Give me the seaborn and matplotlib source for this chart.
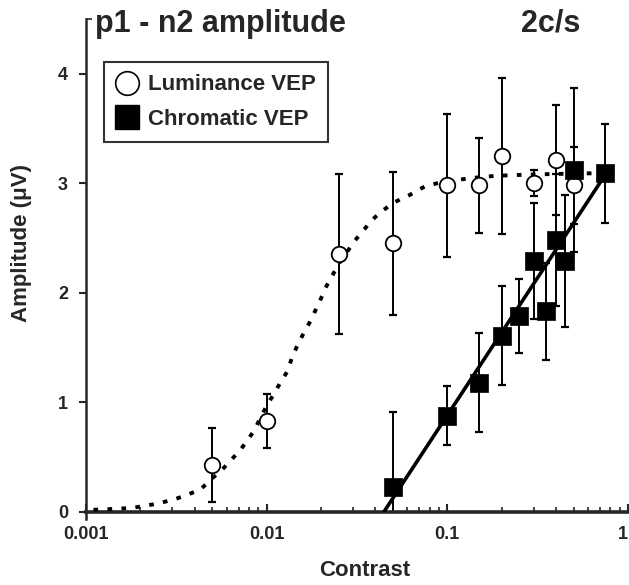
import numpy as np
import pandas as pd
import matplotlib
matplotlib.use("Agg")
import matplotlib.pyplot as plt
import seaborn as sns
from matplotlib.lines import Line2D
from matplotlib.ticker import FixedLocator, NullFormatter

# ---- data ----
lum_contrast = [0.005, 0.01, 0.025, 0.05, 0.1, 0.15, 0.2, 0.3, 0.4, 0.5]
lum_amp = [0.43, 0.83, 2.35, 2.45, 2.98, 2.98, 3.25, 3.00, 3.21, 2.98]
lum_err = [0.34, 0.25, 0.73, 0.65, 0.65, 0.43, 0.71, 0.12, 0.50, 0.35]

chr_contrast = [0.05, 0.1, 0.15, 0.2, 0.25, 0.3, 0.35, 0.4, 0.45, 0.5, 0.75]
chr_amp = [0.23, 0.88, 1.18, 1.61, 1.79, 2.29, 1.83, 2.48, 2.29, 3.12, 3.09]
chr_err = [0.68, 0.27, 0.45, 0.45, 0.34, 0.53, 0.44, 0.60, 0.60, 0.75, 0.45]

# fitted curves
lum_fit_x = [0.0011, 0.0015, 0.0018, 0.0025, 0.0031, 0.0036, 0.0043, 0.0051, 0.0057,
             0.0064, 0.0071, 0.0078, 0.0085, 0.010, 0.0110, 0.0119, 0.0131, 0.0138,
             0.0148, 0.016, 0.0173, 0.0185, 0.020, 0.0214, 0.0252, 0.0309, 0.0377,
             0.0421, 0.0515, 0.0615, 0.075, 0.088, 0.126, 0.16, 0.204, 0.30, 0.59, 0.75]
lum_fit_y = [0.02, 0.03, 0.037, 0.077, 0.117, 0.154, 0.206, 0.32, 0.39,
             0.48, 0.56, 0.65, 0.74, 0.97, 1.08, 1.18, 1.29, 1.41,
             1.52, 1.63, 1.73, 1.83, 1.95, 2.06, 2.27, 2.48, 2.65,
             2.73, 2.83, 2.89, 2.97, 3.00, 3.04, 3.06, 3.07, 3.08, 3.09, 3.09]

chr_fit_x = [0.0445, 0.75]
chr_fit_y = [0.0, 3.08]

x_ticks = [0.001, 0.01, 0.1, 1]
x_tick_labels = ["0.001", "0.01", "0.1", "1"]
y_ticks = [0, 1, 2, 3, 4]

# ---- style ----
sns.set_style("ticks")
plt.rcParams["font.family"] = ["Liberation Sans", "DejaVu Sans"]
plt.rcParams["font.weight"] = "bold"

W, H = 629, 585
fig = plt.figure(figsize=(W / 100, H / 100), dpi=100)
ax = fig.add_axes([86 / W, 1 - 512 / H, 542 / W, 493.2 / H])
ax.set_xscale("log")

lum_df = pd.DataFrame({"Contrast": lum_contrast, "Amplitude": lum_amp, "err": lum_err})
chr_df = pd.DataFrame({"Contrast": chr_contrast, "Amplitude": chr_amp, "err": chr_err})
lfit = pd.DataFrame({"Contrast": lum_fit_x, "Amplitude": lum_fit_y})
cfit = pd.DataFrame({"Contrast": chr_fit_x, "Amplitude": chr_fit_y})

# error bars
ax.errorbar(lum_df["Contrast"], lum_df["Amplitude"], yerr=lum_df["err"], fmt="none",
            ecolor="black", elinewidth=1.4, capsize=3.2, capthick=1.6, zorder=2)
ax.errorbar(chr_df["Contrast"], chr_df["Amplitude"], yerr=chr_df["err"], fmt="none",
            ecolor="black", elinewidth=1.4, capsize=3.2, capthick=1.6, zorder=2)

# fits
sns.lineplot(data=lfit, x="Contrast", y="Amplitude", ax=ax, sort=False, color="black",
             linewidth=2.8, linestyle=(0, (1.2, 2.4)), zorder=3)
sns.lineplot(data=cfit, x="Contrast", y="Amplitude", ax=ax, sort=False, color="black",
             linewidth=2.6, zorder=3)

# markers
sns.scatterplot(data=lum_df, x="Contrast", y="Amplitude", ax=ax, marker="o", s=125,
                facecolor="white", edgecolor="black", linewidth=1.3, zorder=4)
sns.scatterplot(data=chr_df, x="Contrast", y="Amplitude", ax=ax, marker="s", s=150,
                color="black", edgecolor="black", linewidth=0.5, zorder=5)

ax.set_xlim(0.001, 1.0)
ax.set_ylim(0, 4.5)

ax.xaxis.set_major_locator(FixedLocator(x_ticks))
ax.set_xticklabels(x_tick_labels)
minors = [m * 10.0 ** e for e in (-3, -2, -1) for m in range(2, 10)]
ax.xaxis.set_minor_locator(FixedLocator(minors))
ax.xaxis.set_minor_formatter(NullFormatter())
ax.set_yticks(y_ticks)
ax.yaxis.set_minor_locator(FixedLocator([4.5]))

ax.tick_params(axis="x", which="major", direction="in", length=6, width=1.5,
               labelsize=13, pad=10)
ax.tick_params(axis="x", which="minor", direction="in", length=3.5, width=1.2)
ax.tick_params(axis="y", which="major", direction="out", length=5, width=1.5,
               labelsize=13, pad=8)
ax.tick_params(axis="y", which="minor", direction="in", length=4, width=1.2)
for lab in ax.get_xticklabels() + ax.get_yticklabels():
    lab.set_fontweight("bold")
ax.get_xticklabels()[-1].set_horizontalalignment("right")

sns.despine(ax=ax)
ax.spines["left"].set_linewidth(1.8)
ax.spines["bottom"].set_linewidth(2.6)
ax.spines["left"].set_bounds(-0.06, 4.5)

ax.set_xlabel("Contrast", fontsize=16, fontweight="bold")
ax.set_ylabel("Amplitude (\u03bcV)", fontsize=16, fontweight="bold")
ax.xaxis.set_label_coords(0.515, -0.097)
ax.yaxis.set_label_coords(-0.10, 0.546)

fig.text(95 / W, 1 - 24 / H, "p1 - n2 amplitude", fontsize=22, fontweight="bold",
         ha="left", va="center")
fig.text(551 / W, 1 - 24 / H, "2c/s", fontsize=22, fontweight="bold",
         ha="center", va="center")

handles = [
    Line2D([], [], marker="o", markerfacecolor="white", markeredgecolor="black",
           markersize=17, markeredgewidth=1.2, linestyle="none"),
    Line2D([], [], marker="s", markerfacecolor="black", markeredgecolor="black",
           markersize=17, linestyle="none"),
]
leg = ax.legend(handles, ["Luminance VEP", "Chromatic VEP"], loc="upper left",
                bbox_to_anchor=(0.033, 0.912), borderaxespad=0, fancybox=False,
                frameon=True, edgecolor="black", handlelength=1.0, handletextpad=0.45,
                borderpad=0.55, labelspacing=0.6, prop={"size": 16, "weight": "bold"})
leg.get_frame().set_linewidth(1.5)

fig.savefig("out.png", dpi=100)
